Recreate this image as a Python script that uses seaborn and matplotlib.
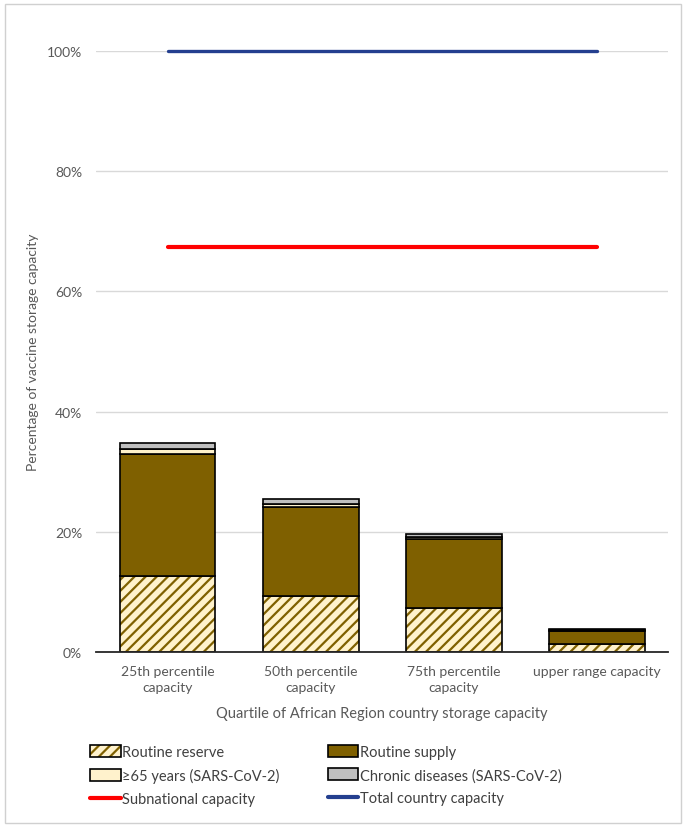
import matplotlib
matplotlib.use('Agg')
import matplotlib.pyplot as plt
import numpy as np
import pandas as pd
import seaborn as sns
from matplotlib.patches import Patch, Rectangle
from matplotlib.lines import Line2D
from matplotlib.ticker import FuncFormatter, FixedLocator

categories = ['25th percentile\ncapacity', '50th percentile\ncapacity',
              '75th percentile\ncapacity', 'upper range capacity']
routine_reserve = [12.6, 9.3, 7.3, 1.3]
routine_supply = [20.3, 14.8, 11.5, 2.2]
over65 = [0.8, 0.5, 0.4, 0.2]
chronic = [1.0, 0.8, 0.4, 0.1]
subnational = [67.4, 67.4, 67.4, 67.4]
total_capacity = [100, 100, 100, 100]

brown = '#7F6000'
cream = '#FFF2CC'
grey = '#BFBFBF'
red = '#FF0000'
blue = '#243F8F'
txt = '#595959'

sns.set_style('white')
plt.rcParams['font.family'] = ['Lato', 'DejaVu Sans']
plt.rcParams['hatch.linewidth'] = 1.6

fig = plt.figure(figsize=(6.86, 8.29), dpi=100)
ax = fig.add_axes([0.140, 0.2123, 0.834, 0.725])

df = pd.DataFrame({'cat': categories, 'reserve': routine_reserve, 'supply': routine_supply,
                   'over65': over65, 'chronic': chronic})
bw = 0.67

# hatched reserve layer (hatch drawn in brown, outline added after)
sns.barplot(data=df, x='cat', y='reserve', ax=ax, width=bw, errorbar=None, saturation=1,
            facecolor=cream, edgecolor=brown, hatch='///', linewidth=0)
sns.barplot(data=df, x='cat', y='reserve', ax=ax, width=bw, errorbar=None,
            fill=False, edgecolor='black', linewidth=1.2)

b1 = np.array(routine_reserve)
sns.barplot(data=df, x='cat', y='supply', ax=ax, width=bw, errorbar=None, saturation=1,
            bottom=b1, color=brown, edgecolor='black', linewidth=1.2)
b2 = b1 + np.array(routine_supply)
sns.barplot(data=df, x='cat', y='over65', ax=ax, width=bw, errorbar=None, saturation=1,
            bottom=b2, color=cream, edgecolor='black', linewidth=1.2)
b3 = b2 + np.array(over65)
sns.barplot(data=df, x='cat', y='chronic', ax=ax, width=bw, errorbar=None, saturation=1,
            bottom=b3, color=grey, edgecolor='black', linewidth=1.2)

pos = np.arange(len(categories))
sns.lineplot(x=pos, y=subnational, ax=ax, color=red, linewidth=3.0, clip_on=False)
sns.lineplot(x=pos, y=total_capacity, ax=ax, color=blue, linewidth=2.4, clip_on=False)

ax.set_xlim(-0.5, 3.5)
ax.set_ylim(0, 100)
ax.set_yticks([0, 20, 40, 60, 80, 100])
ax.yaxis.set_major_formatter(FuncFormatter(lambda v, p: '{:.0f}%'.format(v)))
ax.grid(axis='y', color='#D9D9D9', linewidth=1.0)
ax.set_axisbelow(True)
for s in ['top', 'right', 'left']:
    ax.spines[s].set_visible(False)
ax.spines['bottom'].set_color('#262626')
ax.spines['bottom'].set_linewidth(1.3)

ax.set_xticks(pos)
ax.set_xticklabels(categories, linespacing=1.45)
ax.xaxis.set_minor_locator(FixedLocator([-0.5, 0.5, 1.5, 2.5, 3.5]))
ax.tick_params(axis='x', which='major', length=0, pad=9, labelsize=10, labelcolor=txt)
ax.tick_params(axis='x', which='minor', length=6, width=1.3, color='#262626', direction='out')
ax.tick_params(axis='y', length=0, pad=10, labelsize=10, labelcolor=txt)

ax.set_xlabel('Quartile of African Region country storage capacity', fontsize=10.5, color=txt, labelpad=9)
ax.set_ylabel('Percentage of vaccine storage capacity', fontsize=10, color=txt, labelpad=6)

reserve_handle = (Patch(facecolor=cream, edgecolor=brown, hatch='///', linewidth=0),
                  Patch(facecolor='none', edgecolor='black', linewidth=1.2))
handles = [
    reserve_handle,
    Patch(facecolor=cream, edgecolor='black', linewidth=1.2),
    Line2D([], [], color=red, linewidth=3),
    Patch(facecolor=brown, edgecolor='black', linewidth=1.2),
    Patch(facecolor=grey, edgecolor='black', linewidth=1.2),
    Line2D([], [], color=blue, linewidth=3),
]
labels = ['Routine reserve', '≥65 years (SARS-CoV-2)', 'Subnational capacity',
          'Routine supply', 'Chronic diseases (SARS-CoV-2)', 'Total country capacity']
leg = fig.legend(handles, labels, ncol=2, loc='upper left', bbox_to_anchor=(0.112, 0.116),
                 frameon=False, fontsize=10.5, handlelength=2.1, handleheight=0.85,
                 handletextpad=0.1, columnspacing=3.3, labelspacing=0.62,
                 labelcolor='#404040')

fig.patches.append(Rectangle((0.007, 0.006), 0.986, 0.988, transform=fig.transFigure,
                             fill=False, edgecolor='#D0D0D0', linewidth=1.0))

fig.savefig('out.png', dpi=100)
